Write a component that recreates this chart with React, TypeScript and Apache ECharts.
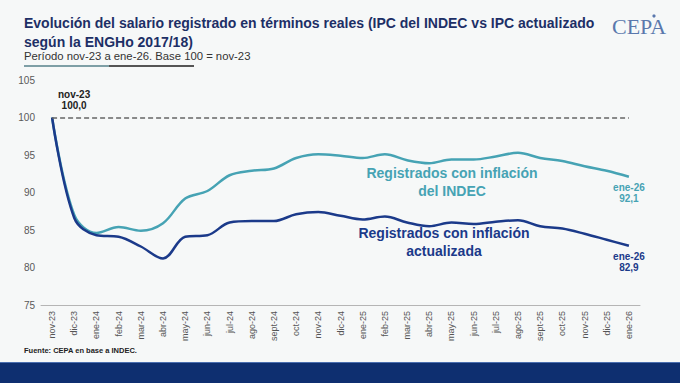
import React, { useEffect, useRef } from "react";
import * as echarts from "echarts";

const categories = [
  "nov-23", "dic-23", "ene-24", "feb-24", "mar-24", "abr-24", "may-24", "jun-24", "jul-24",
  "ago-24", "sept-24", "oct-24", "nov-24", "dic-24", "ene-25", "feb-25", "mar-25", "abr-25",
  "may-25", "jun-25", "jul-25", "ago-25", "sept-25", "oct-25", "nov-25", "dic-25", "ene-26",
];
const indecValues = [
  100, 87.0, 84.6, 85.4, 84.9, 85.9, 89.2, 90.2, 92.3, 92.9, 93.2, 94.6, 95.1, 94.9, 94.6,
  95.1, 94.3, 93.9, 94.4, 94.4, 94.8, 95.3, 94.6, 94.2, 93.5, 92.9, 92.1,
];
const actualizadaValues = [
  100, 86.6, 84.3, 84.1, 82.8, 81.2, 84.1, 84.3, 86.0, 86.2, 86.2, 87.1, 87.4, 86.9, 86.4,
  86.8, 86.0, 85.5, 86.0, 85.8, 86.1, 86.3, 85.5, 85.2, 84.5, 83.7, 82.9,
];
const yTicks = [75, 80, 85, 90, 95, 100, 105];

const TEAL = "#46a3b4";
const NAVY = "#1b3a8a";
const fmt = (v: number) => v.toFixed(1).replace(".", ",");

export default function App() {
  const ref = useRef<HTMLDivElement>(null);
  useEffect(() => {
    if (!ref.current) return;
    const chart = echarts.init(ref.current, null, { renderer: "svg" });
    const last = categories.length - 1;
    const mk = (vals: number[], color: string, first: boolean) =>
      vals.map((v, i) => {
        if (i === last) {
          return {
            value: v,
            label: {
              show: true,
              position: "bottom",
              distance: 5,
              formatter: `${categories[i]}\n${fmt(v)}`,
              color,
              fontSize: 10,
              fontWeight: "bold",
              lineHeight: 11,
              fontFamily: "Liberation Sans",
            },
          };
        }
        if (i === 0 && first) {
          return {
            value: v,
            label: {
              show: true,
              position: "top",
              offset: [22, -2],
              formatter: `${categories[i]}\n${fmt(v)}`,
              color: "#222",
              fontSize: 10,
              fontWeight: "bold",
              lineHeight: 11,
              fontFamily: "Liberation Sans",
            },
          };
        }
        return v;
      });
    chart.setOption({
      animation: false,
      backgroundColor: "#f6f8f8",
      grid: { left: 41, right: 40, top: 80, bottom: 78 },
      xAxis: {
        type: "category",
        data: categories,
        boundaryGap: true,
        axisLine: { lineStyle: { color: "#b5b5b5" } },
        axisTick: { lineStyle: { color: "#b5b5b5" } },
        axisLabel: {
          rotate: 90,
          interval: 0,
          color: "#555",
          fontSize: 9,
          fontFamily: "Liberation Sans",
          margin: 6,
        },
      },
      yAxis: {
        type: "value",
        min: 75,
        max: 105,
        interval: 5,
        splitLine: { show: false },
        axisLine: { show: false },
        axisTick: { show: false },
        axisLabel: {
          color: "#595959",
          fontSize: 10,
          fontFamily: "Liberation Sans",
          margin: 6,
          formatter: (v: number) => (yTicks.includes(v) ? String(v) : ""),
        },
      },
      series: [
        {
          type: "line",
          name: "Registrados con inflación del INDEC",
          data: mk(indecValues, TEAL, false),
          smooth: 0.35,
          symbol: "circle",
          symbolSize: 0,
          showSymbol: true,
          lineStyle: { color: TEAL, width: 2.5 },
          itemStyle: { color: TEAL },
          z: 2,
        },
        {
          type: "line",
          name: "Registrados con inflación actualizada",
          data: mk(actualizadaValues, NAVY, true),
          smooth: 0.35,
          symbol: "circle",
          symbolSize: 0,
          showSymbol: true,
          lineStyle: { color: NAVY, width: 2.5 },
          itemStyle: { color: NAVY },
          z: 3,
          markLine: {
            silent: true,
            symbol: "none",
            label: { show: false },
            lineStyle: { color: "#666", type: [5, 3], width: 1.5 },
            data: [[{ coord: [0, 100] }, { coord: [last, 100] }]],
          },
        },
      ],
      graphic: [
        {
          type: "text",
          left: 24,
          top: 13,
          style: {
            text: "Evolución del salario registrado en términos reales (IPC del INDEC vs IPC actualizado\nsegún la ENGHo 2017/18)",
            fill: "#1d2f66",
            font: "bold 14px 'Liberation Sans', Arial, sans-serif",
            lineHeight: 19,
          },
        },
        {
          type: "text",
          left: 24,
          top: 50,
          style: {
            text: "Período nov-23 a ene-26. Base 100 = nov-23",
            fill: "#333",
            font: "11.3px 'Liberation Sans', Arial, sans-serif",
          },
        },
        { type: "rect", shape: { x: 24, y: 65, width: 85, height: 2 }, style: { fill: "#7e9fa6" } },
        { type: "rect", shape: { x: 109, y: 65, width: 85, height: 2 }, style: { fill: "#555" } },
        {
          type: "text",
          left: 612,
          top: 15,
          style: {
            text: "CEPA",
            fill: "#5a78ad",
            font: "22px 'Liberation Serif', 'DejaVu Serif', serif",
          },
        },
        { type: "circle", shape: { cx: 654, cy: 16, r: 1.6 }, style: { fill: "#5a78ad" } },
        {
          type: "text",
          x: 452,
          y: 182,
          style: {
            text: "Registrados con inflación\ndel INDEC",
            fill: TEAL,
            font: "bold 14px 'Liberation Sans', Arial, sans-serif",
            lineHeight: 18,
            align: "center",
            verticalAlign: "middle",
          },
        },
        {
          type: "text",
          x: 444,
          y: 242,
          style: {
            text: "Registrados con inflación\nactualizada",
            fill: NAVY,
            font: "bold 14px 'Liberation Sans', Arial, sans-serif",
            lineHeight: 18,
            align: "center",
            verticalAlign: "middle",
          },
        },
        {
          type: "text",
          left: 24,
          top: 346,
          style: {
            text: "Fuente: CEPA en base a INDEC.",
            fill: "#222",
            font: "bold 7.5px 'Liberation Sans', Arial, sans-serif",
          },
        },
        { type: "rect", shape: { x: 0, y: 362, width: 680, height: 1 }, style: { fill: "#4a6fb0" } },
        { type: "rect", shape: { x: 0, y: 363, width: 680, height: 20 }, style: { fill: "#0e2f70" } },
      ],
    });
    return () => chart.dispose();
  }, []);
  return (
    <div
      ref={ref}
      style={{ position: "fixed", left: 0, top: 0, width: 680, height: 383 }}
    />
  );
}
